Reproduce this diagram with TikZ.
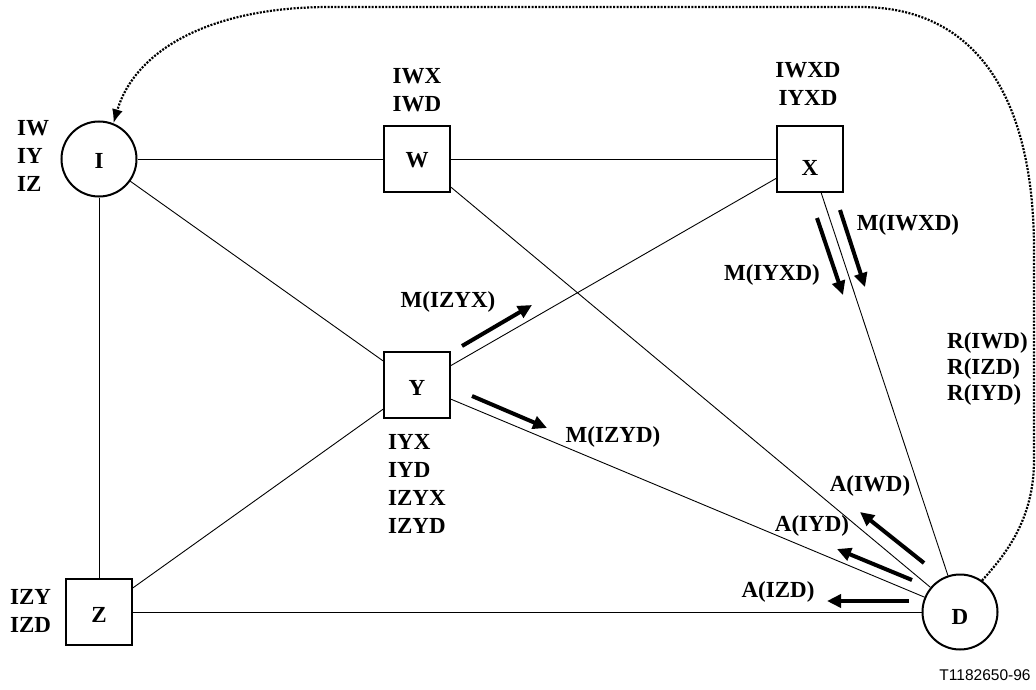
\documentclass[tikz,border=0pt]{standalone}
\usepackage{fontspec}
\setmainfont{Liberation Serif}
\newfontfamily\labsans{Liberation Sans}
\usetikzlibrary{arrows.meta}
\newcommand{\lowered}[2]{\raisebox{-#1}[\height][\depth]{#2}}
\begin{document}
\begin{tikzpicture}[x=1pt,y=-1pt,
  lab/.style={font=\fontsize{23}{28}\selectfont\bfseries, inner sep=0pt, align=left},
  labc/.style={font=\fontsize{23}{28}\selectfont\bfseries, inner sep=0pt, align=center},
  circnode/.style={circle, draw, line width=2pt, minimum size=75pt, inner sep=0pt, font=\fontsize{23}{28}\selectfont\bfseries},
  boxnode/.style={rectangle, draw, line width=2pt, minimum size=66pt, inner sep=0pt, font=\fontsize{23}{28}\selectfont\bfseries},
  link/.style={line width=0.9pt},
  msg/.style={line width=4pt, -{Triangle[length=14pt,width=13pt]}},
  ret/.style={line width=2.2pt, dash pattern=on 2pt off 1.4pt, -{Latex[length=14pt,width=11pt]}}
]
\useasboundingbox (0,0) rectangle (1036,690);
% main nodes
\node[circnode] (I) at (99,159) {\lowered{2pt}{I}};
\node[boxnode] (W) at (417,159) {\lowered{1pt}{W}};
\node[boxnode] (X) at (810,159) {\lowered{9pt}{X}};
\node[boxnode] (Y) at (417,385) {\lowered{3pt}{Y}};
\node[boxnode] (Z) at (99,612) {\lowered{3pt}{Z}};
\node[circnode] (D) at (960,612) {\lowered{5pt}{D}};
% links
\draw[link] (I) -- (W);
\draw[link] (W) -- (X);
\draw[link] (I) -- (Z);
\draw[link] (I) -- (Y);
\draw[link] (Y) -- (X);
\draw[link] (Z) -- (Y);
\draw[link] (Y) -- (D);
\draw[link] (W) -- (D);
\draw[link] (X) -- (D);
\draw[link] (Z) -- (D);
% return path
\draw[ret] (D.55) .. controls (1005,555) and (1034,520) .. (1034,460) -- (1034,250)
  .. controls (1034,110) and (985,7) .. (860,7) -- (330,7)
  .. controls (210,7) and (135,50) .. (I.68);
% state labels
\node[lab, anchor=west] (lI) at (17,156) {IW\\IY\\IZ};
\node[labc] (lW) at (417,90) {IWX\\IWD};
\node[labc] (lX) at (808,84) {IWXD\\IYXD};
\node[lab, anchor=west] (lY) at (388,484) {IYX\\IYD\\IZYX\\IZYD};
\node[lab, anchor=west] (lZ) at (10,611) {IZY\\IZD};
\node[lab, anchor=west, font=\fontsize{23}{26}\selectfont\bfseries] (lD) at (947,369) {R(IWD)\\R(IZD)\\R(IYD)};
% message labels
\node[labc] (mIWXD) at (908,225) {M(IWXD)};
\node[labc] (mIYXD) at (772,275) {M(IYXD)};
\node[labc] (mIZYX) at (448,302) {M(IZYX)};
\node[labc] (mIZYD) at (613,437) {M(IZYD)};
\node[labc] (aIWD) at (870,486) {A(IWD)};
\node[labc] (aIYD) at (812,526) {A(IYD)};
\node[labc] (aIZD) at (778,592) {A(IZD)};
% message arrows
\draw[msg] (840,210) -- (865,287);
\draw[msg] (817,218) -- (843,295);
\draw[msg] (462,346) -- (532,305);
\draw[msg] (472,396) -- (547,428);
\draw[msg] (924,563) -- (860,512);
\draw[msg] (912,580) -- (837,549);
\draw[msg] (909,601) -- (827,601);
% figure id
\node[inner sep=0pt, font=\labsans\fontsize{15.5}{18}\selectfont] (fid) at (985,675) {T1182650-96};
\end{tikzpicture}
\end{document}
